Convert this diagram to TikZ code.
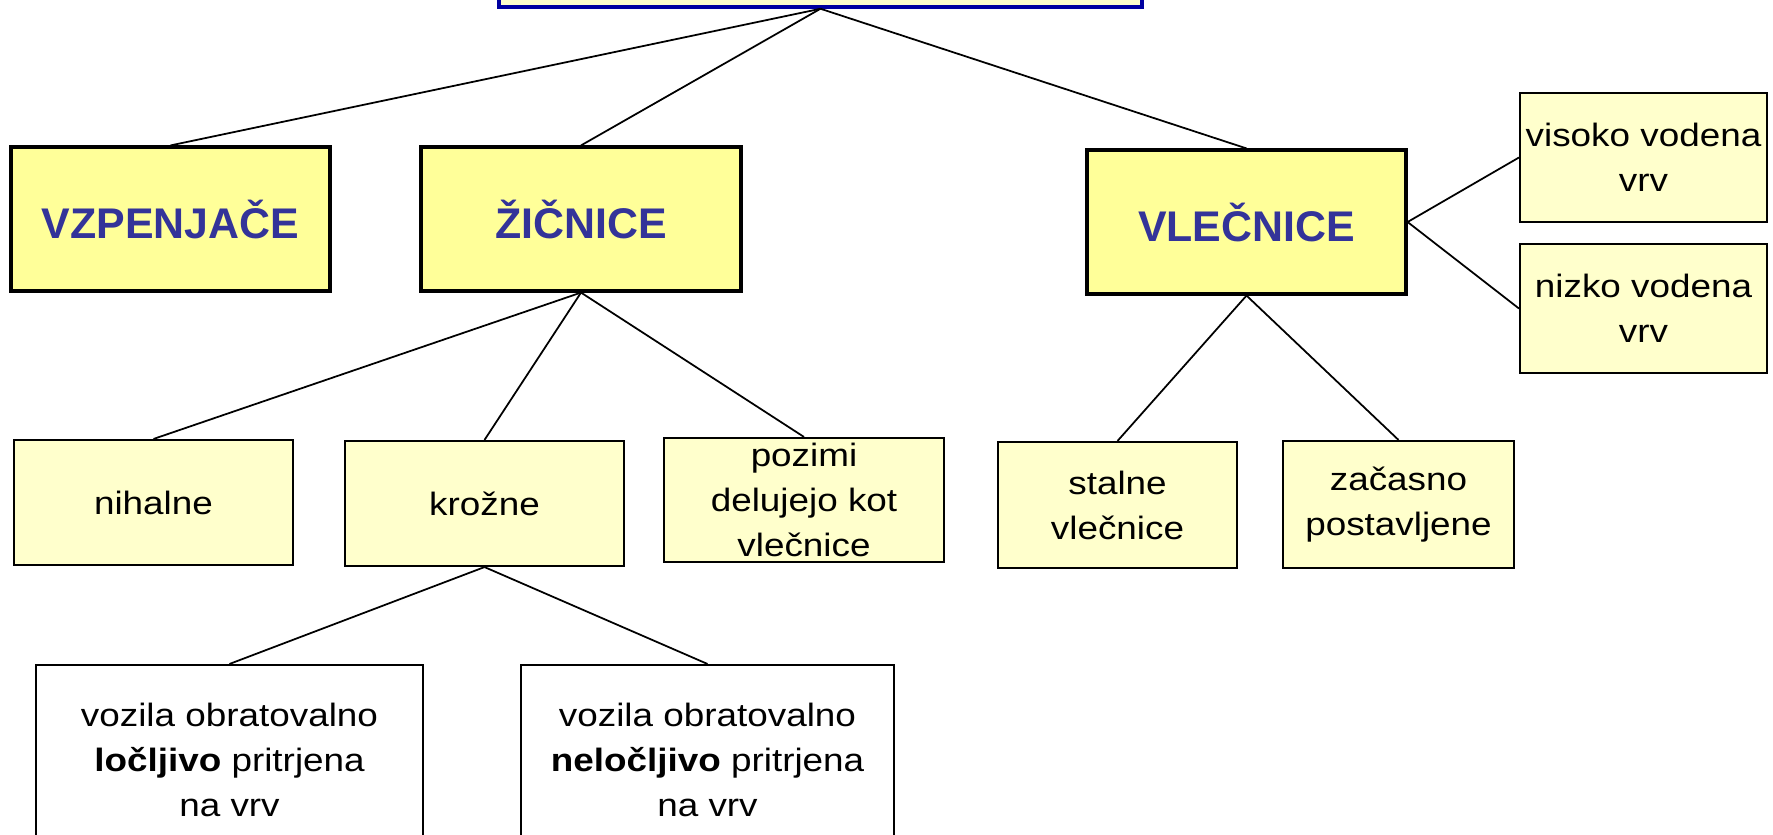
\documentclass[tikz,border=0pt]{standalone}
\usepackage{fontspec}
\setmainfont{Liberation Sans}
\newfontfamily\boxfont[FakeStretch=1.14]{Liberation Sans}
\definecolor{headyellow}{HTML}{FFFF99}
\definecolor{paleyellow}{HTML}{FFFFCC}
\definecolor{headblue}{HTML}{333399}
\definecolor{frameblue}{HTML}{0000A0}

\begin{document}
\begin{tikzpicture}[
        head/.style={draw,line width=0.9pt,fill=headyellow,text=headblue,align=center,inner sep=0pt,
            font=\fontsize{12.2}{14}\selectfont\bfseries},
        sub/.style={draw,line width=0.6pt,fill=paleyellow,align=center,inner sep=0pt,
            font=\boxfont\fontsize{9.2}{12.8}\selectfont},
        leaf/.style={sub,fill=white},
        link/.style={line width=0.5pt}]
            \useasboundingbox (0,0) rectangle (17.73,-8.34);
            \node [draw=frameblue,line width=1pt,fill=paleyellow,minimum width=6.43cm,minimum height=0.8cm] (Top) at (8.205,0.33) {};

            \node [head,minimum width=3.19cm,minimum height=1.44cm] (Vzp) at (1.705,-2.19) {VZPENJAČE};
            \node [head,minimum width=3.20cm,minimum height=1.44cm] (Zic) at (5.81,-2.19) {ŽIČNICE};
            \node [head,minimum width=3.19cm,minimum height=1.44cm] (Vlec) at (12.465,-2.22) {VLEČNICE};

            \node [sub,minimum width=2.47cm,minimum height=1.29cm] (Visoko) at (16.435,-1.575) {visoko vodena\\vrv};
            \node [sub,minimum width=2.47cm,minimum height=1.29cm] (Nizko) at (16.435,-3.085) {nizko vodena\\vrv};

            \node [sub,minimum width=2.79cm,minimum height=1.25cm] (Nihal) at (1.535,-5.025) {nihalne};
            \node [sub,minimum width=2.79cm,minimum height=1.25cm] (Kroz) at (4.845,-5.035) {krožne};
            \node [sub,minimum width=2.80cm,minimum height=1.24cm] (Pozimi) at (8.04,-5.0) {pozimi\\delujejo kot\\vlečnice};
            \node [sub,minimum width=2.39cm,minimum height=1.26cm] (Stalne) at (11.175,-5.05) {stalne\\vlečnice};
            \node [sub,minimum width=2.31cm,minimum height=1.27cm] (Zacas) at (13.985,-5.045) {začasno\\postavljene};

            \node [leaf,minimum width=3.87cm,minimum height=1.9cm] (Locl) at (2.295,-7.6) {vozila obratovalno\\\textbf{ločljivo} pritrjena\\na vrv};
            \node [leaf,minimum width=3.73cm,minimum height=1.9cm] (Nelocl) at (7.075,-7.6) {vozila obratovalno\\\textbf{neločljivo} pritrjena\\na vrv};

            \draw [link] (Top.south) -- (Vzp.north);
            \draw [link] (Top.south) -- (Zic.north);
            \draw [link] (Top.south) -- (Vlec.north);
            \draw [link] (Zic.south) -- (Nihal.north);
            \draw [link] (Zic.south) -- (Kroz.north);
            \draw [link] (Zic.south) -- (Pozimi.north);
            \draw [link] (Kroz.south) -- (Locl.north);
            \draw [link] (Kroz.south) -- (Nelocl.north);
            \draw [link] (Vlec.south) -- (Stalne.north);
            \draw [link] (Vlec.south) -- (Zacas.north);
            \draw [link] (Vlec.east) -- (Visoko.west);
            \draw [link] (Vlec.east) -- (Nizko.west);
        \end{tikzpicture}
\end{document}
